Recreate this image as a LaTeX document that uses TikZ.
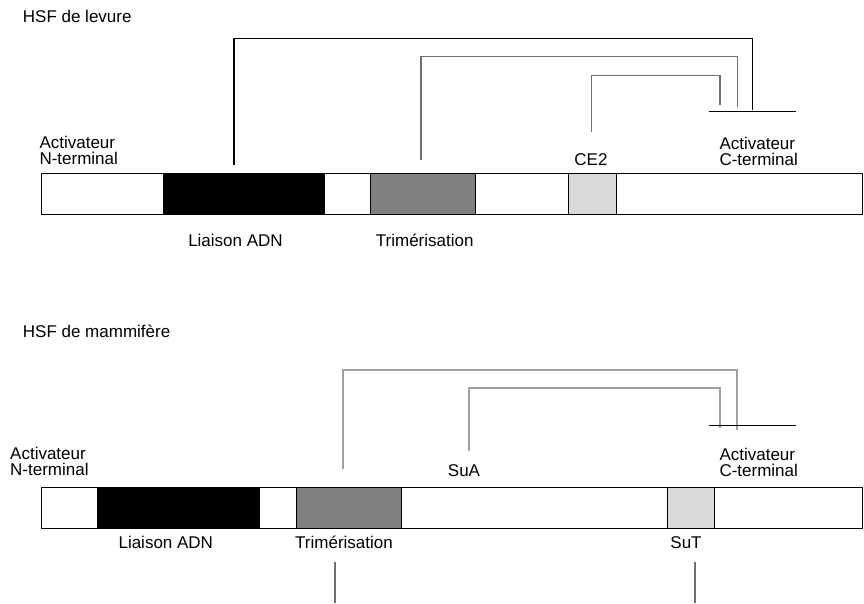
\documentclass[tikz,border=0pt]{standalone}
\usepackage{fontspec}
\setmainfont{Liberation Sans}
\begin{document}
\begin{tikzpicture}[x=1pt,y=-1pt,
  lbl/.style={inner sep=0pt, font=\fontsize{17pt}{16pt}\selectfont, align=left},
  seg/.style={draw=black, line width=0.9pt},
  blk/.style={seg, fill=black},
  dgr/.style={seg, fill={rgb,255:red,128;green,128;blue,128}},
  lgr/.style={seg, fill={rgb,255:red,217;green,217;blue,217}},
  wht/.style={seg, fill=white},
  linkA/.style={draw=black, line width=1.1pt},
  linkB/.style={draw={rgb,255:red,112;green,112;blue,112}, line width=1.1pt},
  linkC/.style={draw={rgb,255:red,160;green,160;blue,160}, line width=1.1pt},
  cbar/.style={draw=black, line width=1pt}]
\useasboundingbox (0,0) rectangle (864,603);

% ---------- yeast HSF ----------
\node[lbl, anchor=base west] (t1) at (22.7,22.7) {HSF de levure};

\path[wht] (41,173.5) rectangle (163,214.5);
\path[blk] (163,173.5) rectangle (324,214.5);
\path[wht] (324,173.5) rectangle (370,214.5);
\path[dgr] (370,173.5) rectangle (475,214.5);
\path[wht] (475,173.5) rectangle (568.5,214.5);
\path[lgr] (568.5,173.5) rectangle (616,214.5);
\path[wht] (616,173.5) rectangle (862,214.5);

\node[lbl, anchor=base west] (ny) at (39.3,164.3) {Activateur\\N-terminal};
\node[lbl, anchor=base west] (cy) at (719.3,165) {Activateur\\C-terminal};
\node[lbl, anchor=base] (ce2) at (591,165) {CE2};
\node[lbl, anchor=base] (ly) at (235.5,246.7) {Liaison ADN};
\node[lbl, anchor=base] (ty) at (424.7,246.7) {Trimérisation};

\coordinate (ya1) at (234,165);
\coordinate (ya2) at (752.7,110);
\coordinate (yat) at (0,38.3);
\coordinate (yb1) at (421,160);
\coordinate (yb2) at (737.7,107);
\coordinate (ybt) at (0,56.7);
\coordinate (yc1) at (591.7,131.7);
\coordinate (yc2) at (720,105);
\coordinate (yct) at (0,75.7);
\coordinate (ybl) at (709,111.3);
\coordinate (ybr) at (796,111.3);

\draw[linkA] (ya1) |- (yat -| ya2) -- (ya2);
\draw[linkB] (yb1) |- (ybt -| yb2) -- (yb2);
\draw[linkB] (yc1) |- (yct -| yc2) -- (yc2);
\draw[cbar] (ybl) -- (ybr);

% ---------- mammalian HSF ----------
\node[lbl, anchor=base west] (t2) at (22.7,337.7) {HSF de mammifère};

\path[wht] (41,487.5) rectangle (97,528);
\path[blk] (97,487.5) rectangle (259,528);
\path[wht] (259,487.5) rectangle (296,528);
\path[dgr] (296,487.5) rectangle (401,528);
\path[wht] (401,487.5) rectangle (667,528);
\path[lgr] (667,487.5) rectangle (714,528);
\path[wht] (714,487.5) rectangle (862,528);

\node[lbl, anchor=base west] (nm) at (10,475.7) {Activateur\\N-terminal};
\node[lbl, anchor=base west] (cm) at (719.3,476.7) {Activateur\\C-terminal};
\node[lbl, anchor=base] (sua) at (464,476.7) {SuA};
\node[lbl, anchor=base] (lm) at (165.8,548.3) {Liaison ADN};
\node[lbl, anchor=base] (tm) at (344,548.3) {Trimérisation};
\node[lbl, anchor=base] (sut) at (686,548.3) {SuT};

\coordinate (ma1) at (343,469);
\coordinate (ma2) at (737,430);
\coordinate (mat) at (0,370);
\coordinate (mb1) at (469,451);
\coordinate (mb2) at (720,428);
\coordinate (mbt) at (0,388);
\coordinate (mbl) at (709,425);
\coordinate (mbr) at (796,425);
\coordinate (d1a) at (335,562);
\coordinate (d1b) at (335,603);
\coordinate (d2a) at (695,562);
\coordinate (d2b) at (695,603);

\draw[linkC] (ma1) |- (mat -| ma2) -- (ma2);
\draw[linkC] (mb1) |- (mbt -| mb2) -- (mb2);
\draw[cbar] (mbl) -- (mbr);
\draw[linkB] (d1a) -- (d1b);
\draw[linkB] (d2a) -- (d2b);
\end{tikzpicture}
\end{document}
